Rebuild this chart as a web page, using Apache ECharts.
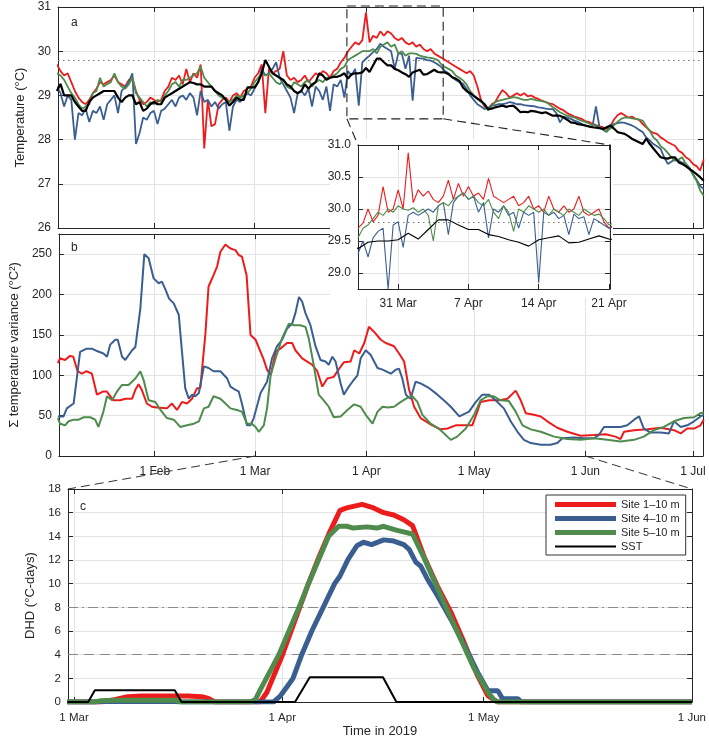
<!DOCTYPE html>
<html><head><meta charset="utf-8">
<script src="https://cdn.jsdelivr.net/npm/echarts@6/dist/echarts.min.js"></script>
<style>html,body{margin:0;padding:0;background:#fff}#c{width:709px;height:739px}</style>
</head><body><div id="c"></div>
<script>
// ---------------- DATA ----------------
// x values are day-of-year 2019 (1 = 1 Jan)
const dailyStartDoy = 5;   // first daily sample: 5 Jan
const sstDaily = [
29.1,29.26,29.0,29.0,29.0,28.85,28.75,28.65,28.65,28.85,
28.95,29.0,29.05,29.1,29.1,29.1,29.1,28.95,28.85,28.95,
29.0,29.0,28.8,28.85,28.65,28.7,28.8,28.85,28.8,28.8,
28.95,29.0,29.05,29.1,29.15,29.2,29.25,29.3,29.28,29.25,
29.25,29.2,29.2,29.2,29.1,29.05,29.0,28.9,28.77,28.85,
28.95,28.9,28.9,29.18,29.18,29.18,29.3,29.5,29.8,29.65,
29.5,29.45,29.4,29.35,29.25,29.2,29.1,29.05,29.1,29.25,
29.15,29.25,29.3,29.5,29.45,29.35,29.4,29.42,29.42,29.45,
29.5,29.38,29.48,29.5,29.5,29.52,29.62,29.53,29.68,29.83,
29.83,29.75,29.68,29.68,29.6,29.57,29.52,29.48,29.42,29.52,
29.55,29.58,29.47,29.48,29.53,29.58,29.53,29.52,29.52,29.48,
29.41,29.38,29.33,29.18,29.1,29.05,28.99,28.93,28.88,28.8,
28.69,28.7,28.73,28.75,28.77,28.74,28.76,28.77,28.7,28.62,
28.63,28.62,28.65,28.64,28.62,28.6,28.62,28.58,28.54,28.55,
28.54,28.5,28.45,28.39,28.38,28.35,28.34,28.32,28.3,28.28,
28.27,28.26,28.24,28.28,28.32,28.25,28.17,28.15,28.13,28.08,
28.02,27.98,27.94,27.9,28.02,27.9,27.8,27.7,27.6,27.58,
27.57,27.6,27.6,27.49,27.45,27.4,27.34,27.28,27.22,27.15,
27.07];
const site1Daily = [
29.7,29.55,29.45,29.5,29.3,29.1,28.95,28.85,28.8,28.9,
29.05,29.15,29.3,29.25,29.3,29.35,29.45,29.3,29.25,29.2,
29.35,29.4,29.1,28.9,28.8,28.85,28.95,28.9,28.85,28.9,
29.1,29.2,29.4,29.35,29.45,29.25,29.6,29.3,29.5,29.4,
29.7,27.8,28.9,28.3,28.35,28.8,28.9,28.95,28.85,29.0,
29.05,28.95,29.1,29.15,29.2,29.4,29.5,29.7,28.6,29.6,
29.5,29.55,29.6,30.0,29.45,29.35,29.4,29.3,29.35,29.45,
29.3,29.4,29.5,29.45,29.55,29.5,29.4,29.55,29.6,29.75,
29.85,30.0,30.1,30.2,30.15,30.25,30.88,30.2,30.35,30.3,
30.45,30.35,30.45,30.4,30.3,30.25,30.3,30.2,30.15,30.2,
30.1,30.15,30.05,30.0,30.05,29.95,29.9,29.85,29.8,29.75,
29.7,29.65,29.6,29.55,29.5,29.55,29.45,29.2,28.9,28.75,
28.68,28.8,28.85,29.0,29.12,29.05,28.95,29.0,29.05,29.0,
29.05,28.98,29.0,28.95,28.92,28.88,28.85,28.82,28.8,28.75,
28.7,28.66,28.6,28.56,28.52,28.5,28.47,28.42,28.4,28.36,
28.33,28.3,28.28,28.24,28.3,28.45,28.55,28.6,28.55,28.5,
28.52,28.47,28.45,28.35,28.28,28.2,28.15,28.13,28.05,28.0,
27.94,27.9,27.86,27.75,27.7,27.6,27.55,27.45,27.4,27.3,
27.55];
const site4Daily = [
29.2,29.05,28.75,29.0,28.9,28.0,28.6,28.55,28.7,28.4,
28.65,28.6,28.75,28.45,28.8,28.9,29.0,28.6,29.1,29.2,
29.3,29.5,27.9,28.15,28.5,28.45,28.6,28.65,28.35,28.65,
28.7,28.8,28.9,28.75,28.95,29.0,28.9,29.05,28.95,28.55,
29.1,28.85,28.9,28.75,28.85,28.7,28.8,28.85,28.2,28.75,
28.9,28.85,28.95,29.05,29.0,29.15,29.3,29.6,29.45,29.5,
29.6,29.75,29.4,29.25,29.1,28.95,28.6,29.05,29.1,29.0,
29.15,28.75,29.2,29.1,28.9,29.2,28.65,29.25,29.2,29.35,
28.95,29.55,29.45,29.6,28.77,29.75,29.83,29.9,29.98,30.05,
30.17,30.1,30.05,30.0,29.6,29.95,29.94,29.6,29.9,28.88,
29.85,29.84,29.83,29.8,29.79,29.75,29.7,29.64,29.55,29.5,
29.41,29.35,29.3,29.26,29.15,29.0,28.9,28.8,28.75,28.69,
28.72,28.77,28.78,28.8,28.8,28.82,28.85,28.83,28.8,28.8,
28.78,28.77,28.76,28.75,28.73,28.72,28.7,28.69,28.69,28.6,
28.39,28.52,28.5,28.47,28.43,28.4,28.36,28.32,28.3,28.28,
28.75,28.28,28.22,28.17,28.3,28.35,28.37,28.39,28.38,28.35,
28.32,28.28,28.22,28.17,28.05,27.98,27.9,27.85,27.79,27.6,
27.45,27.5,27.56,27.52,27.48,27.45,27.35,27.22,27.1,26.95,
26.88];
const site5Daily = [
29.5,29.45,29.35,29.2,29.05,28.95,28.8,28.7,28.75,28.8,
29.05,29.1,29.4,29.2,29.25,29.3,29.5,29.3,29.2,29.15,
29.25,29.4,29.05,28.95,28.85,28.75,28.85,28.8,28.9,28.85,
29.0,29.1,29.25,29.3,29.2,29.35,29.35,29.4,29.45,29.5,
29.65,29.4,29.3,29.2,29.1,29.0,28.95,28.9,28.85,28.9,
29.0,28.95,29.0,29.05,29.15,29.3,29.4,29.5,29.45,29.5,
29.4,29.3,29.25,29.35,29.2,29.15,29.3,29.25,29.2,29.3,
29.35,29.2,29.3,29.35,29.3,29.4,29.4,29.45,29.5,29.6,
29.65,29.8,29.85,29.9,29.95,30.0,30.0,30.0,30.05,29.95,
30.1,30.15,30.2,30.1,30.15,29.95,30.0,29.9,29.95,29.95,
29.94,29.9,29.88,29.86,29.85,29.83,29.8,29.7,29.64,29.6,
29.55,29.45,29.4,29.34,29.25,29.1,29.0,28.92,28.85,28.8,
28.66,28.75,28.85,28.88,28.9,28.92,28.94,28.96,28.95,28.92,
28.9,28.9,28.92,28.9,28.88,28.87,28.85,28.8,28.73,28.68,
28.62,28.58,28.54,28.52,28.5,28.46,28.43,28.4,28.37,28.33,
28.32,28.27,28.24,28.19,28.25,28.32,28.4,28.47,28.5,28.5,
28.48,28.47,28.45,28.43,28.3,28.2,28.05,27.98,27.85,27.79,
27.7,27.6,27.52,27.55,27.6,27.45,27.37,27.2,27.07,26.85,
26.73];

// inset: 12-hourly samples from 27 Mar (doy 86)
const insetStartDoy = 86, insetStep = 0.5;
const site1Inset = [
29.70,29.78,30.00,29.80,29.90,30.35,29.95,30.00,30.30,30.00,
30.88,30.10,30.30,30.20,30.28,30.15,30.10,30.20,30.45,30.15,
30.40,30.20,30.35,30.20,30.25,30.15,30.48,30.20,30.15,30.10,
30.15,30.20,30.05,30.10,30.20,30.00,30.05,29.95,30.20,30.00,
29.95,30.05,29.95,30.00,30.20,29.95,29.90,29.95,30.00,29.80,
29.70,29.75];
const site4Inset = [
29.30,29.50,29.25,29.55,29.65,29.70,28.75,29.75,29.80,29.40,
29.90,29.95,29.90,29.95,30.00,29.95,30.05,30.10,29.60,30.10,
30.20,30.25,30.15,30.20,29.95,30.10,29.55,30.00,29.95,30.05,
29.90,29.95,29.70,29.95,29.90,29.95,28.85,29.95,29.90,29.95,
29.85,29.90,29.60,29.92,29.85,29.88,29.60,29.85,29.80,29.75,
29.70,29.72];
const site5Inset = [
29.55,29.70,29.75,29.85,29.95,29.90,30.00,29.95,30.05,30.00,
29.98,30.02,29.95,30.00,29.90,29.50,30.05,30.10,30.05,30.15,
30.20,30.25,30.15,30.20,30.10,30.05,30.15,29.95,29.85,30.05,
29.95,29.65,30.00,29.95,30.05,30.00,29.95,30.00,29.90,30.00,
29.95,29.90,30.00,29.95,29.90,30.00,29.95,29.90,29.92,29.85,
29.75,29.78];

// panel b: [doy, summed variance]
const varSite1 = [[5,115],[5.6,121],[7,119],[8.4,124],[9.3,123],[10.5,105],[11.7,102],[13,105],[14.5,102],[15.9,76],[17.7,80],[18.6,80],[20.5,69],[22.4,69],[23.8,71],[25.7,71],[26.6,82],[27.5,89],[28.4,82],[29.8,65],[31.2,61],[32.6,60],[35.4,59],[36.8,65],[38.2,57],[39.6,67],[41,65],[42.4,71],[43.8,84],[44.7,84],[46.1,150],[47,210],[48.4,224],[49.4,235],[50.3,253],[51.7,262],[53.1,257],[54.5,255],[55.4,249],[56.3,247],[57.6,224],[58.7,150],[60.1,144],[61.5,129],[62.4,119],[63.3,107],[64.3,100],[65.7,129],[67,133],[68.9,140],[70.3,140],[71.2,131],[73.1,121],[74.5,117],[75.9,113],[77.3,105],[78.7,86],[80.1,96],[81.9,98],[82.9,105],[84.7,116],[86.6,117],[87.6,131],[89,127],[90.4,140],[91.7,160],[93.1,154],[95,144],[96.4,140],[98.7,136],[100.1,127],[101.5,117],[102.9,82],[104.3,61],[106.1,47],[108.9,39],[111.7,33],[113.6,34],[115.9,38],[118.2,38],[120.5,38],[121.9,55],[122.8,67],[125.2,69],[128,69],[130.3,71],[132.6,81],[134,69],[135.4,53],[137.7,51],[139.6,49],[141.4,43],[144.2,35],[147,30],[150.7,25],[154.4,26],[157.7,27],[160.4,24],[161.8,21],[162.8,30],[165.6,32],[169.3,33],[173,35],[176.7,32],[178.6,28],[180.4,34],[182.3,34],[184.1,38],[185,45]];
const varSite4 = [[5,49],[6.6,49],[7.5,59],[9.4,65],[9.8,67],[11.2,129],[13,133],[14.5,133],[15.9,130],[17.7,127],[18.7,123],[19.6,138],[21,144],[21.7,144],[22.9,123],[23.8,119],[25.7,131],[26.6,135],[28,183],[29.1,250],[30.3,245],[31.7,220],[33.1,214],[34,216],[35,206],[36,195],[37.3,189],[38.7,175],[39.6,129],[40.5,84],[41.5,71],[42.4,76],[43.3,74],[44.3,78],[45.7,111],[47,109],[48.4,105],[50.3,105],[52.2,96],[53.1,86],[54.5,82],[55.4,80],[56.3,65],[57.7,38],[58.7,38],[59.6,47],[61.5,78],[63.3,92],[64.7,121],[66.1,136],[67.5,144],[68.9,158],[70.3,164],[71.2,177],[72.2,197],[73.1,191],[74,177],[75.4,162],[76.8,136],[78.2,119],[79.6,117],[80.5,113],[81.5,123],[82.4,117],[83.8,90],[84.7,76],[86.1,86],[87.1,92],[88.5,100],[89.4,121],[90.8,131],[92.2,125],[94.1,109],[95.5,107],[97.8,102],[99.2,107],[100.1,108],[101,96],[102,76],[103.3,71],[104.7,92],[106.1,90],[108.5,84],[110.8,76],[113.1,67],[114.5,61],[116.9,49],[117.3,47],[119.6,55],[121.5,67],[123.3,76],[125.2,76],[127,69],[129.3,59],[131.2,43],[133.1,30],[134.9,20],[136.8,16],[139.6,14],[142.3,14],[144.2,16],[145.6,22],[148.8,23],[151.6,22],[154.4,22],[155.8,26],[157.2,36],[159.5,36],[161.8,36],[163.7,38],[165.6,45],[167,49],[168.3,34],[170.2,29],[173,29],[175.3,28],[176.7,43],[178.6,36],[180.4,38],[182.3,43],[184.1,49],[185,51]];
const varSite5 = [[5,47],[5.6,40],[7,38],[8,43],[9.4,45],[10.8,45],[12.2,48],[14,48],[15.4,45],[16.3,36],[17.7,55],[18.7,74],[20.1,69],[21.5,80],[22.9,88],[24.7,88],[26.6,96],[28,105],[28.9,94],[30.3,69],[32.2,67],[33.6,57],[35.4,47],[37.3,45],[39.1,36],[41,38],[42.9,40],[44.3,43],[45.7,59],[47,61],[48.4,74],[50.3,71],[51.7,65],[53.1,59],[54.9,57],[56.3,55],[57.7,40],[59.1,40],[60.1,36],[61,30],[62.4,38],[63.3,59],[64.3,100],[65.7,121],[67.5,146],[69.4,164],[70.8,162],[72.6,162],[74,160],[74.9,146],[76.3,113],[77.7,76],[79.1,69],[80.5,61],[81.9,48],[83.8,49],[85.7,57],[87.6,64],[89.4,61],[90.8,51],[92.7,40],[94.1,55],[95.5,61],[96.9,60],[98.7,61],[100.6,67],[102.4,72],[103.8,74],[105.2,67],[106.6,51],[108.9,40],[111.7,32],[114.5,20],[116.3,24],[118.7,34],[121,51],[122.8,69],[124.7,74],[126.5,74],[128.4,69],[130.7,68],[132.6,55],[134.5,38],[136.8,33],[139.6,30],[143.3,24],[147,21],[150.7,20],[154.4,22],[158.1,20],[161.8,18],[165.6,20],[168.3,24],[171.1,32],[173.9,36],[176.7,43],[179.5,47],[182.3,48],[184.1,53],[185,54]];

// panel c: [doy, degree heating days]
const dhdSite1 = [[59,0],[64,0],[66,0.2],[68,0.45],[70,0.5],[77,0.5],[79,0.45],[80,0.3],[81,0],[87.7,0],[88.7,0.8],[90.9,3.8],[93.6,8],[94.9,10],[96.5,12.3],[98.1,14.4],[99.6,16.2],[100.6,16.4],[102.9,16.7],[104.6,16.4],[106.1,16.0],[107.6,15.8],[109.1,15.4],[110.4,14.9],[112.1,12.3],[114.1,9.8],[116.1,7.6],[118.1,5.0],[120.1,2.2],[121.6,0.56],[122.6,0.14],[123.1,0],[152,0]];
const dhdSite4 = [[59,0],[63,0],[64,0.05],[75,0.05],[76,0],[89.7,0],[90.7,0.5],[91.6,1.2],[92.6,2],[93.9,4],[95.4,6],[97.1,8],[98.8,10],[99.6,10.65],[100.8,12.05],[102.1,13.2],[103.1,13.5],[104.3,13.3],[106.1,13.7],[107.6,13.6],[109.1,13.3],[109.9,12.9],[110.9,11.8],[111.6,11.5],[112.6,10.4],[114.1,9.0],[116.1,7.0],[118.1,4.8],[120.1,2.5],[121.6,0.98],[122.1,0.95],[123.1,0.95],[123.8,0.28],[126.1,0.28],[126.6,0],[152,0]];
const dhdSite5 = [[59,0],[63,0],[64,0.1],[66,0.15],[75,0.15],[76,0],[86.2,0],[87,0.2],[87.7,1],[90.5,4],[93.5,8],[94.9,10],[96.4,12],[97.9,14],[99.4,14.85],[100.6,14.85],[101.6,14.7],[103.6,14.8],[105.1,14.7],[106.1,14.85],[108.1,14.5],[110.4,14.2],[112.1,12.2],[114.6,9.0],[117.1,5.9],[119.6,2.8],[121.6,0.84],[122.6,0.14],[123.1,0],[152,0]];
const dhdSST = [[59,0],[62.1,0],[63.1,1.0],[75,1.0],[76,0],[92.9,0],[95.1,2.1],[106,2.1],[108,0],[152,0]];

const bleachThreshold = 29.79;
const dhdLevels = [4, 8];
const seriesNames = ['Site 1\u201310 m', 'Site 4\u201310 m', 'Site 5\u201310 m', 'SST'];

const monthTicks = [32, 60, 91, 121, 152, 182];
const monthLabels = ['1 Feb', '1 Mar', '1 Apr', '1 May', '1 Jun', '1 Jul'];
const cTicks = [60, 91, 121, 152];
const cLabels = ['1 Mar', '1 Apr', '1 May', '1 Jun'];
const insetTicks = [90, 97, 104, 111];
const insetLabels = ['31 Mar', '7 Apr', '14 Apr', '21 Apr'];
const varTicks = [0, 50, 100, 150, 200, 250];
const insetYTicks = [29, 29.5, 30, 30.5, 31];
const zoomBoxDoy = [85.7, 112.5];
const zoomBoxTemp = [28.47, 31];

// ---------------- CHART ----------------
const AX = '#262626', GL = '#e3e3e3', FONT = 'Liberation Sans';
const C1 = '#ec1c1c', C4 = '#3b5e91', C5 = '#4e8b4c', CS = '#000000';
const chart = echarts.init(document.getElementById('c'), null, {renderer: 'canvas'});

const grids = [
  {left: 58, top: 7, width: 645, height: 221},
  {left: 58, top: 234, width: 645, height: 222},
  {left: 68, top: 489, width: 624, height: 214},
  {left: 358, top: 145, width: 252, height: 144, show: true, backgroundColor: '#fff', borderWidth: 0, z: 16}
];
const xr = [[5.3, 184.8], [5.3, 184.8], [59.1, 152], [86.0, 111.1]];
const yr = [[26, 31], [0, 275], [0, 18], [28.75, 31]];
const xt = [monthTicks, monthTicks, cTicks, insetTicks];
const xl = [monthLabels, monthLabels, cLabels, insetLabels];

function ax(o) {
  return Object.assign({
    type: 'value',
    axisLine: {show: true, onZero: false, lineStyle: {color: AX, width: 1}},
    axisTick: {show: true, inside: true, length: 5, lineStyle: {color: AX, width: 1}},
    axisLabel: {show: true, color: AX, fontSize: 12, fontFamily: FONT},
    splitLine: {show: false}
  }, o);
}
const xAxes = [], yAxes = [];
for (let side = 0; side < 2; side++) {
  for (let g = 0; g < 4; g++) {
    const z = g === 3 ? 17 : 0;
    const showLab = side === 0 && g !== 0;
    xAxes.push(ax({
      gridIndex: g, position: side === 0 ? 'bottom' : 'top', min: xr[g][0], max: xr[g][1], z,
      axisTick: {show: true, inside: true, length: 5, lineStyle: {color: AX}, customValues: xt[g]},
      axisLabel: {show: showLab, customValues: xt[g], color: AX, fontSize: g === 2 ? 11.5 : 12, fontFamily: FONT, margin: g === 3 ? 9 : 10,
        formatter: ((t, l) => v => { const i = t.indexOf(v); return i >= 0 ? l[i] : ''; })(xt[g], xl[g])},
      splitLine: {show: side === 0, lineStyle: {color: GL, width: 1}},
      name: (side === 0 && g === 2) ? 'Time in 2019' : '', nameLocation: 'middle', nameGap: 23,
      nameTextStyle: {color: AX, fontSize: 13, fontFamily: FONT}
    }));
    let yo = {gridIndex: g, position: side === 0 ? 'left' : 'right', min: yr[g][0], max: yr[g][1], z,
      splitLine: {show: side === 0, lineStyle: {color: GL, width: 1}},
      axisLabel: {show: side === 0, color: AX, fontSize: g === 2 ? 11.5 : 12, fontFamily: FONT, margin: 7},
      nameLocation: 'middle', nameTextStyle: {color: AX, fontSize: 13, fontFamily: FONT}};
    if (g === 0) Object.assign(yo, {interval: 1});
    if (g === 2) Object.assign(yo, {interval: 2});
    if (g === 1) {
      yo.axisTick = {show: true, inside: true, length: 5, lineStyle: {color: AX}, customValues: varTicks};
      yo.axisLabel.customValues = varTicks;
    }
    if (g === 3) {
      yo.axisTick = {show: true, inside: true, length: 5, lineStyle: {color: AX}, customValues: insetYTicks};
      yo.axisLabel.customValues = insetYTicks;
      yo.axisLabel.formatter = v => v.toFixed(1);
    }
    if (side === 0) {
      if (g === 0) Object.assign(yo, {name: 'Temperature (\u00b0C)', nameGap: 29});
      if (g === 1) Object.assign(yo, {name: '\u03a3 temperature variance (\u00b0C\u00b2)', nameGap: 36});
      if (g === 2) Object.assign(yo, {name: 'DHD (\u00b0C-days)', nameGap: 30});
    }
    yAxes.push(ax(yo));
  }
}

const daily = arr => arr.map((v, i) => [dailyStartDoy + i, v]);
const insetD = arr => arr.map((v, i) => [insetStartDoy + i * insetStep, v]);
function ln(name, g, data, color, width, z, extra) {
  return Object.assign({type: 'line', name, xAxisIndex: g, yAxisIndex: g, data, symbol: 'none', showSymbol: false,
    lineStyle: {color, width}, itemStyle: {color}, z: z || 2, silent: true, animation: false, clip: true}, extra || {});
}
const dotted = (z) => ({markLine: {silent: true, symbol: 'none', z, label: {show: false},
  lineStyle: {color: '#777', type: [1.5, 3.5], width: 1}, data: [{yAxis: bleachThreshold}]}});

const series = [
  ln('a1', 0, daily(site1Daily), C1, 1.8),
  ln('a4', 0, daily(site4Daily), C4, 1.8),
  ln('a5', 0, daily(site5Daily), C5, 1.8),
  ln('aS', 0, daily(sstDaily), CS, 2.2, 3, dotted(1)),
  ln('b1', 1, varSite1, C1, 2),
  ln('b4', 1, varSite4, C4, 2),
  ln('b5', 1, varSite5, C5, 2),
  ln(seriesNames[0], 2, dhdSite1, C1, 5),
  ln(seriesNames[1], 2, dhdSite4, C4, 5),
  ln(seriesNames[2], 2, dhdSite5, C5, 5),
  ln(seriesNames[3], 2, dhdSST, CS, 2, 3, {markLine: {silent: true, symbol: 'none', z: 1, label: {show: false},
    data: [{yAxis: dhdLevels[1], lineStyle: {color: '#8a8a8a', width: 1.2, type: [10, 4, 2, 4]}},
           {yAxis: dhdLevels[0], lineStyle: {color: '#8a8a8a', width: 1.2, type: [10, 6]}}]}}),
  ln('i1', 3, insetD(site1Inset), C1, 1.1, 19),
  ln('i4', 3, insetD(site4Inset), C4, 1.1, 19),
  ln('i5', 3, insetD(site5Inset), C5, 1.1, 19),
  ln('iS', 3, daily(sstDaily), CS, 1.1, 20, dotted(18))
];

// legend icons: a bar inside a 61x10 box (thick for sites, thin for SST)
const thickIcon = 'path://M0,0M0,2.5H61V7.5H0ZM61,10';
const thinIcon = 'path://M0,0M0,4H61V6H0ZM61,10';

chart.setOption({
  animation: false,
  backgroundColor: '#fff',
  textStyle: {fontFamily: FONT},
  grid: grids,
  xAxis: xAxes,
  yAxis: yAxes,
  legend: {
    data: seriesNames.map((n, i) => ({name: n, icon: i < 3 ? thickIcon : thinIcon})),
    orient: 'vertical', left: 546, top: 495,
    itemWidth: 61, itemHeight: 10, itemGap: 3, selectedMode: false, symbolKeepAspect: false,
    backgroundColor: '#fff', borderColor: '#333', borderWidth: 1, padding: [4, 6, 3, 9],
    textStyle: {color: AX, fontSize: 11, lineHeight: 11, fontFamily: FONT}, z: 10
  },
  series
});

// annotation graphics, placed through the axes' own scales
const P = (g, pt) => chart.convertToPixel({xAxisIndex: g, yAxisIndex: g}, pt);
const boxTL = P(0, [zoomBoxDoy[0], zoomBoxTemp[1]]);
const boxBR = P(0, [zoomBoxDoy[1], zoomBoxTemp[0]]);
const inTL = P(3, [xr[3][0], yr[3][1]]);
const inBR = P(3, [xr[3][1], yr[3][0]]);
const bL = P(1, [cTicks[0], 0]);
const bR = P(1, [cTicks[cTicks.length - 1], 0]);
const cTL = P(2, [xr[2][0], yr[2][1]]);
const cTR = P(2, [xr[2][1], yr[2][1]]);
const dash = {stroke: '#222', lineWidth: 1.1, lineDash: [9, 5], fill: null};
const txt = (x, y, t) => ({type: 'text', x, y, z: 30, style: {text: t, fill: AX, font: '12px "Liberation Sans"'}});
chart.setOption({
  graphic: [
    {type: 'rect', z: 15, silent: true, shape: {x: inTL[0] - 28, y: inTL[1] - 6, width: inBR[0] - inTL[0] + 31, height: inBR[1] - inTL[1] + 15}, style: {fill: '#fff'}},
    {type: 'rect', z: 30, silent: true, shape: {x: boxTL[0], y: boxTL[1] - 1, width: boxBR[0] - boxTL[0], height: boxBR[1] - boxTL[1] + 1}, style: dash},
    {type: 'line', z: 30, silent: true, shape: {x1: boxTL[0], y1: boxBR[1], x2: inTL[0], y2: inTL[1]}, style: dash},
    {type: 'line', z: 30, silent: true, shape: {x1: boxBR[0], y1: boxBR[1], x2: inBR[0], y2: inTL[1]}, style: dash},
    {type: 'line', z: 30, silent: true, shape: {x1: bL[0], y1: bL[1], x2: cTL[0], y2: cTL[1]}, style: Object.assign({}, dash, {stroke: '#333', lineWidth: 1})},
    {type: 'line', z: 30, silent: true, shape: {x1: bR[0], y1: bR[1], x2: cTR[0], y2: cTR[1]}, style: Object.assign({}, dash, {stroke: '#333', lineWidth: 1})},
    txt(grids[0].left + 13, grids[0].top + 10, 'a'),
    txt(grids[1].left + 13, grids[1].top + 8, 'b'),
    txt(grids[2].left + 12, grids[2].top + 12, 'c')
  ]
});
</script></body></html>
